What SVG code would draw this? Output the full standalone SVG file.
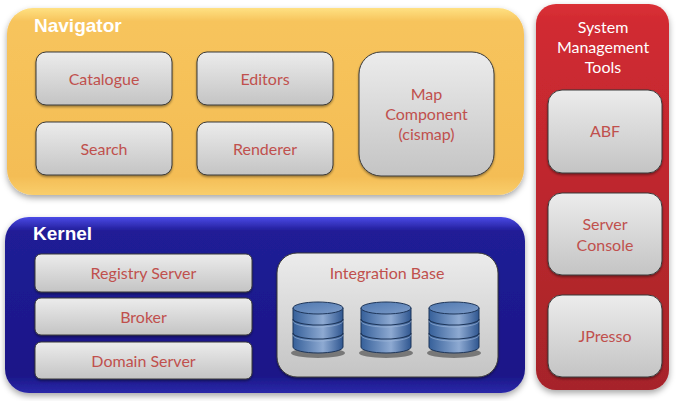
<svg xmlns="http://www.w3.org/2000/svg" width="687" height="401" viewBox="0 0 687 401">
<defs>
  <linearGradient id="gNav" x1="0" y1="0" x2="0" y2="1">
    <stop offset="0" stop-color="#FFE182"/>
    <stop offset="0.07" stop-color="#F7C45C"/>
    <stop offset="0.9" stop-color="#F4BD55"/>
    <stop offset="1" stop-color="#F9CE6C"/>
  </linearGradient>
  <linearGradient id="gKer" x1="0" y1="0" x2="0" y2="1">
    <stop offset="0" stop-color="#4A4AE6"/>
    <stop offset="0.08" stop-color="#201C96"/>
    <stop offset="0.9" stop-color="#1A1788"/>
    <stop offset="1" stop-color="#2A28A8"/>
  </linearGradient>
  <linearGradient id="gSys" x1="0" y1="0" x2="0" y2="1">
    <stop offset="0" stop-color="#DA3036"/>
    <stop offset="0.05" stop-color="#D12A31"/>
    <stop offset="1" stop-color="#A6242A"/>
  </linearGradient>
  <linearGradient id="gBox" x1="0" y1="0" x2="0" y2="1">
    <stop offset="0" stop-color="#ECECEC"/>
    <stop offset="1" stop-color="#C4C4C4"/>
  </linearGradient>
  <linearGradient id="gCyl" x1="0" y1="0" x2="1" y2="0">
    <stop offset="0" stop-color="#36609A"/>
    <stop offset="0.6" stop-color="#8EAAD2"/>
    <stop offset="1" stop-color="#2F5690"/>
  </linearGradient>
  <linearGradient id="gTop" x1="0" y1="0" x2="1" y2="1">
    <stop offset="0" stop-color="#4F78B0"/>
    <stop offset="1" stop-color="#7C9BC8"/>
  </linearGradient>
  <filter id="sh" x="-10%" y="-10%" width="120%" height="125%">
    <feDropShadow dx="0" dy="3" stdDeviation="3" flood-color="#000" flood-opacity="0.35"/>
  </filter>
  <filter id="shs" x="-10%" y="-10%" width="120%" height="130%">
    <feDropShadow dx="0" dy="1.5" stdDeviation="1.2" flood-color="#000" flood-opacity="0.4"/>
  </filter>
  <g id="db">
    <ellipse cx="26" cy="52" rx="27" ry="5" fill="#333" opacity="0.55"/>
    <path d="M1,7 V46 A25,6 0 0 0 51,46 V7 Z" fill="url(#gCyl)" stroke="#1D3559" stroke-width="1"/>
    <path d="M1,18 A25,6 0 0 0 51,18" fill="none" stroke="#1D3559" stroke-width="1.2"/>
    <path d="M1,20 A25,6 0 0 0 51,20" fill="none" stroke="#A9C0E0" stroke-width="0.8" opacity="0.7"/>
    <path d="M1,32 A25,6 0 0 0 51,32" fill="none" stroke="#1D3559" stroke-width="1.2"/>
    <path d="M1,34 A25,6 0 0 0 51,34" fill="none" stroke="#A9C0E0" stroke-width="0.8" opacity="0.7"/>
    <ellipse cx="26" cy="7" rx="25" ry="6" fill="url(#gTop)" stroke="#1D3559" stroke-width="1"/>
  </g>
</defs>
<style>
  .box { fill: url(#gBox); stroke: #3A3A3A; stroke-width: 1; }
  .lbl { font-family: Lato, "Open Sans", "DejaVu Sans", sans-serif; font-size: 16px; fill: #C0504D; text-anchor: middle; }
  .ttl { font-family: "Liberation Sans", Arial, sans-serif; font-size: 19px; font-weight: bold; fill: #FFFFFF; }
  .wt { font-family: Lato, "Open Sans", "DejaVu Sans", sans-serif; font-size: 16px; fill: #FFFFFF; text-anchor: middle; }
</style>

<g id="navigator">
  <rect x="7" y="8" width="517" height="187" rx="26" fill="url(#gNav)" filter="url(#sh)"/>
  <text class="ttl" x="34" y="32">Navigator</text>
</g>
<g id="catalogue">
  <rect class="box" x="36" y="52" width="136" height="53" rx="10" filter="url(#shs)"/>
  <text class="lbl" x="104" y="85">Catalogue</text>
</g>
<g id="editors">
  <rect class="box" x="197" y="52" width="136" height="53" rx="10" filter="url(#shs)"/>
  <text class="lbl" x="265" y="85">Editors</text>
</g>
<g id="search">
  <rect class="box" x="36" y="122" width="136" height="53" rx="10" filter="url(#shs)"/>
  <text class="lbl" x="104" y="155">Search</text>
</g>
<g id="renderer">
  <rect class="box" x="197" y="122" width="136" height="53" rx="10" filter="url(#shs)"/>
  <text class="lbl" x="265" y="155">Renderer</text>
</g>
<g id="map-component">
  <rect class="box" x="359" y="52" width="135" height="124" rx="22" filter="url(#shs)"/>
  <text class="lbl" x="426.5" y="100">Map</text>
  <text class="lbl" x="426.5" y="120">Component</text>
  <text class="lbl" x="426.5" y="140">(cismap)</text>
</g>

<g id="kernel">
  <rect x="5" y="217" width="520" height="176" rx="24" fill="url(#gKer)" filter="url(#sh)"/>
  <text class="ttl" x="33" y="240">Kernel</text>
</g>
<g id="registry-server">
  <rect class="box" x="35" y="254" width="217" height="38" rx="6" filter="url(#shs)"/>
  <text class="lbl" x="143.5" y="278.5">Registry Server</text>
</g>
<g id="broker">
  <rect class="box" x="35" y="298" width="217" height="37" rx="6" filter="url(#shs)"/>
  <text class="lbl" x="143.5" y="322.5">Broker</text>
</g>
<g id="domain-server">
  <rect class="box" x="35" y="342" width="217" height="37" rx="6" filter="url(#shs)"/>
  <text class="lbl" x="143.5" y="366.5">Domain Server</text>
</g>
<g id="integration-base">
  <rect class="box" x="277" y="253" width="221" height="124" rx="20" filter="url(#shs)"/>
  <text class="lbl" x="387" y="279">Integration Base</text>
  <use href="#db" x="292" y="301"/>
  <use href="#db" x="360" y="301"/>
  <use href="#db" x="428" y="301"/>
</g>

<g id="system-management-tools">
  <rect x="536" y="4" width="133" height="386" rx="20" fill="url(#gSys)" filter="url(#sh)"/>
  <text class="wt" x="603" y="33">System</text>
  <text class="wt" x="603" y="53">Management</text>
  <text class="wt" x="603" y="73">Tools</text>
</g>
<g id="abf">
  <rect class="box" x="548" y="90" width="114" height="83" rx="14" filter="url(#shs)"/>
  <text class="lbl" x="605" y="137">ABF</text>
</g>
<g id="server-console">
  <rect class="box" x="548" y="193" width="114" height="82" rx="14" filter="url(#shs)"/>
  <text class="lbl" x="605" y="230">Server</text>
  <text class="lbl" x="605" y="251">Console</text>
</g>
<g id="jpresso">
  <rect class="box" x="548" y="295" width="114" height="82" rx="14" filter="url(#shs)"/>
  <text class="lbl" x="605" y="342">JPresso</text>
</g>

<g id="connectors"></g>
</svg>
